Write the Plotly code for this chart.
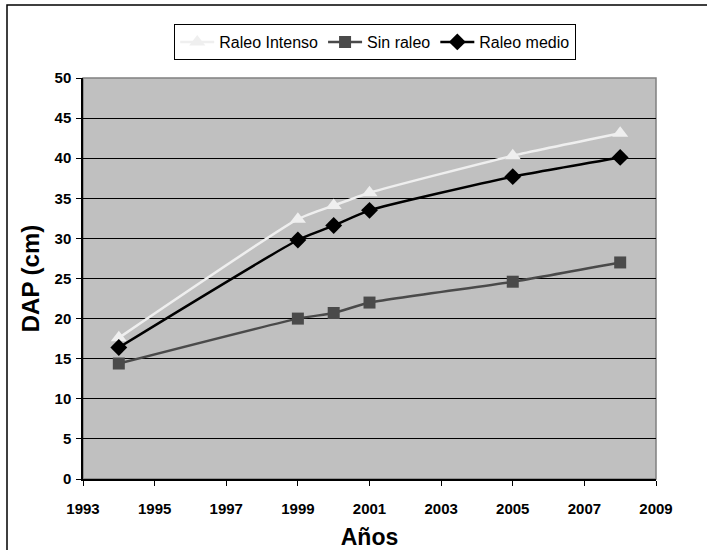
import plotly.graph_objects as go

# Años de medición y DAP promedio (cm) por tratamiento
anios = [1994, 1999, 2000, 2001, 2005, 2008]
raleo_intenso = [17.6, 32.4, 34.1, 35.7, 40.3, 43.1]
sin_raleo = [14.4, 20.0, 20.7, 22.0, 24.6, 27.0]
raleo_medio = [16.4, 29.8, 31.6, 33.5, 37.7, 40.1]

x_ticks = list(range(1993, 2010, 2))
y_ticks = list(range(0, 51, 5))

W, H = 707, 550
ML, MR, MT, MB = 83, 51, 78, 71
PW, PH = W - ML - MR, H - MT - MB

font_main = "Liberation Sans, Arial, sans-serif"

fig = go.Figure()
fig.add_trace(go.Scatter(
    x=anios, y=raleo_intenso, name="Raleo Intenso", mode="lines+markers",
    line=dict(color="#EFEFEF", width=2.5, shape="spline", smoothing=0.5),
    marker=dict(symbol="triangle-up", size=14, color="#EFEFEF"),
))
fig.add_trace(go.Scatter(
    x=anios, y=sin_raleo, name="Sin raleo", mode="lines+markers",
    line=dict(color="#4A4A4A", width=2.5, shape="spline", smoothing=0.5),
    marker=dict(symbol="square", size=12, color="#4A4A4A"),
))
fig.add_trace(go.Scatter(
    x=anios, y=raleo_medio, name="Raleo medio", mode="lines+markers",
    line=dict(color="#000000", width=2.5, shape="spline", smoothing=0.5),
    marker=dict(symbol="diamond", size=13, color="#000000"),
))

# marco exterior del gráfico y borde del área de trazado
px = lambda v: (v - ML) / PW
py = lambda v: (H - MB - v) / PH
fig.add_shape(type="rect", xref="paper", yref="paper",
              x0=px(7), x1=px(730), y0=py(570), y1=py(5),
              line=dict(color="black", width=1.5), fillcolor="rgba(0,0,0,0)", layer="above")
fig.add_shape(type="rect", xref="paper", yref="paper",
              x0=0, x1=1, y0=0, y1=1,
              line=dict(color="#808080", width=1.5), fillcolor="rgba(0,0,0,0)", layer="below")

fig.update_layout(
    width=W, height=H,
    margin=dict(l=ML, r=MR, t=MT, b=MB),
    paper_bgcolor="white",
    plot_bgcolor="#C0C0C0",
    font=dict(family=font_main, color="black"),
    showlegend=True,
    legend=dict(
        orientation="h", x=0.51, xanchor="center", y=py(24), yanchor="top",
        bordercolor="black", borderwidth=1, bgcolor="white",
        font=dict(size=16, family=font_main), itemwidth=34,
    ),
    xaxis=dict(
        range=[1993, 2009], tickvals=x_ticks, ticktext=[str(v) for v in x_ticks],
        showgrid=False, zeroline=False, automargin=False,
        showline=True, linecolor="black", linewidth=1.5,
        ticks="outside", ticklen=5, tickcolor="black", ticklabelstandoff=10,
        tickfont=dict(size=15, family=font_main, weight="bold"),
        title=dict(text="<b>Años</b>", font=dict(size=23, family=font_main), standoff=14),
    ),
    yaxis=dict(
        range=[0, 50], tickvals=y_ticks,
        showgrid=True, gridcolor="black", gridwidth=1, zeroline=False, automargin=False,
        showline=True, linecolor="black", linewidth=1.5,
        ticks="outside", ticklen=5, tickcolor="black", ticklabelstandoff=2,
        tickfont=dict(size=15, family=font_main, weight="bold"),
        title=dict(text="<b>DAP (cm)</b>", font=dict(size=24, family=font_main), standoff=8),
    ),
)

fig.write_html("out.html")
